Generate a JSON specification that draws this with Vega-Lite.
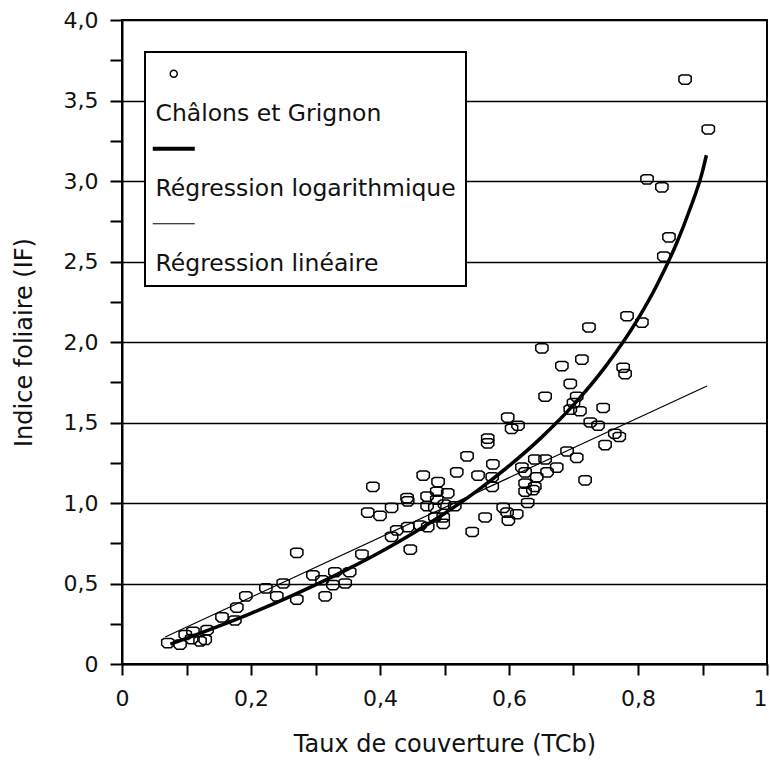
{
  "$schema": "https://vega.github.io/schema/vega-lite/v6.json",
  "width": 645,
  "height": 644,
  "autosize": {"type": "none"},
  "padding": {"left": 122, "top": 20, "right": 3, "bottom": 101},
  "background": "white",
  "config": {
    "view": {"stroke": "black", "strokeWidth": 2},
    "font": "DejaVu Sans",
    "axis": {"labelFont": "DejaVu Sans", "titleFont": "DejaVu Sans", "labelColor": "#111", "titleColor": "#111", "labelFontSize": 22, "titleFontSize": 24, "titleFontWeight": "normal", "domainColor": "black", "domainWidth": 2, "tickColor": "black", "tickWidth": 2, "labelOverlap": false, "labelFlush": false}
  },
  "data": {"values": [
    {"serie": "Châlons et Grignon", "tcb": 0.873, "indice": 3.63},
    {"serie": "Châlons et Grignon", "tcb": 0.909, "indice": 3.32},
    {"serie": "Châlons et Grignon", "tcb": 0.814, "indice": 3.01},
    {"serie": "Châlons et Grignon", "tcb": 0.837, "indice": 2.96},
    {"serie": "Châlons et Grignon", "tcb": 0.848, "indice": 2.65},
    {"serie": "Châlons et Grignon", "tcb": 0.840, "indice": 2.53},
    {"serie": "Châlons et Grignon", "tcb": 0.783, "indice": 2.16},
    {"serie": "Châlons et Grignon", "tcb": 0.806, "indice": 2.12},
    {"serie": "Châlons et Grignon", "tcb": 0.724, "indice": 2.09},
    {"serie": "Châlons et Grignon", "tcb": 0.651, "indice": 1.96},
    {"serie": "Châlons et Grignon", "tcb": 0.713, "indice": 1.89},
    {"serie": "Châlons et Grignon", "tcb": 0.682, "indice": 1.85},
    {"serie": "Châlons et Grignon", "tcb": 0.777, "indice": 1.84},
    {"serie": "Châlons et Grignon", "tcb": 0.780, "indice": 1.80},
    {"serie": "Châlons et Grignon", "tcb": 0.695, "indice": 1.74},
    {"serie": "Châlons et Grignon", "tcb": 0.656, "indice": 1.66},
    {"serie": "Châlons et Grignon", "tcb": 0.705, "indice": 1.66},
    {"serie": "Châlons et Grignon", "tcb": 0.700, "indice": 1.62},
    {"serie": "Châlons et Grignon", "tcb": 0.695, "indice": 1.58},
    {"serie": "Châlons et Grignon", "tcb": 0.710, "indice": 1.57},
    {"serie": "Châlons et Grignon", "tcb": 0.746, "indice": 1.59},
    {"serie": "Châlons et Grignon", "tcb": 0.726, "indice": 1.50},
    {"serie": "Châlons et Grignon", "tcb": 0.738, "indice": 1.48},
    {"serie": "Châlons et Grignon", "tcb": 0.764, "indice": 1.43},
    {"serie": "Châlons et Grignon", "tcb": 0.771, "indice": 1.41},
    {"serie": "Châlons et Grignon", "tcb": 0.749, "indice": 1.36},
    {"serie": "Châlons et Grignon", "tcb": 0.598, "indice": 1.53},
    {"serie": "Châlons et Grignon", "tcb": 0.614, "indice": 1.48},
    {"serie": "Châlons et Grignon", "tcb": 0.604, "indice": 1.46},
    {"serie": "Châlons et Grignon", "tcb": 0.567, "indice": 1.40},
    {"serie": "Châlons et Grignon", "tcb": 0.567, "indice": 1.37},
    {"serie": "Châlons et Grignon", "tcb": 0.535, "indice": 1.29},
    {"serie": "Châlons et Grignon", "tcb": 0.575, "indice": 1.24},
    {"serie": "Châlons et Grignon", "tcb": 0.552, "indice": 1.17},
    {"serie": "Châlons et Grignon", "tcb": 0.574, "indice": 1.16},
    {"serie": "Châlons et Grignon", "tcb": 0.574, "indice": 1.10},
    {"serie": "Châlons et Grignon", "tcb": 0.620, "indice": 1.22},
    {"serie": "Châlons et Grignon", "tcb": 0.640, "indice": 1.27},
    {"serie": "Châlons et Grignon", "tcb": 0.656, "indice": 1.27},
    {"serie": "Châlons et Grignon", "tcb": 0.625, "indice": 1.19},
    {"serie": "Châlons et Grignon", "tcb": 0.643, "indice": 1.16},
    {"serie": "Châlons et Grignon", "tcb": 0.659, "indice": 1.19},
    {"serie": "Châlons et Grignon", "tcb": 0.674, "indice": 1.22},
    {"serie": "Châlons et Grignon", "tcb": 0.625, "indice": 1.12},
    {"serie": "Châlons et Grignon", "tcb": 0.640, "indice": 1.10},
    {"serie": "Châlons et Grignon", "tcb": 0.625, "indice": 1.07},
    {"serie": "Châlons et Grignon", "tcb": 0.637, "indice": 1.08},
    {"serie": "Châlons et Grignon", "tcb": 0.690, "indice": 1.32},
    {"serie": "Châlons et Grignon", "tcb": 0.705, "indice": 1.28},
    {"serie": "Châlons et Grignon", "tcb": 0.718, "indice": 1.14},
    {"serie": "Châlons et Grignon", "tcb": 0.629, "indice": 1.00},
    {"serie": "Châlons et Grignon", "tcb": 0.591, "indice": 0.97},
    {"serie": "Châlons et Grignon", "tcb": 0.597, "indice": 0.94},
    {"serie": "Châlons et Grignon", "tcb": 0.612, "indice": 0.93},
    {"serie": "Châlons et Grignon", "tcb": 0.599, "indice": 0.89},
    {"serie": "Châlons et Grignon", "tcb": 0.563, "indice": 0.91},
    {"serie": "Châlons et Grignon", "tcb": 0.543, "indice": 0.82},
    {"serie": "Châlons et Grignon", "tcb": 0.519, "indice": 1.19},
    {"serie": "Châlons et Grignon", "tcb": 0.467, "indice": 1.17},
    {"serie": "Châlons et Grignon", "tcb": 0.389, "indice": 1.10},
    {"serie": "Châlons et Grignon", "tcb": 0.490, "indice": 1.13},
    {"serie": "Châlons et Grignon", "tcb": 0.473, "indice": 1.04},
    {"serie": "Châlons et Grignon", "tcb": 0.488, "indice": 1.07},
    {"serie": "Châlons et Grignon", "tcb": 0.505, "indice": 1.06},
    {"serie": "Châlons et Grignon", "tcb": 0.488, "indice": 1.02},
    {"serie": "Châlons et Grignon", "tcb": 0.473, "indice": 0.98},
    {"serie": "Châlons et Grignon", "tcb": 0.485, "indice": 0.97},
    {"serie": "Châlons et Grignon", "tcb": 0.500, "indice": 0.99},
    {"serie": "Châlons et Grignon", "tcb": 0.516, "indice": 0.98},
    {"serie": "Châlons et Grignon", "tcb": 0.485, "indice": 0.91},
    {"serie": "Châlons et Grignon", "tcb": 0.498, "indice": 0.91},
    {"serie": "Châlons et Grignon", "tcb": 0.498, "indice": 0.87},
    {"serie": "Châlons et Grignon", "tcb": 0.442, "indice": 1.03},
    {"serie": "Châlons et Grignon", "tcb": 0.443, "indice": 1.01},
    {"serie": "Châlons et Grignon", "tcb": 0.381, "indice": 0.94},
    {"serie": "Châlons et Grignon", "tcb": 0.400, "indice": 0.92},
    {"serie": "Châlons et Grignon", "tcb": 0.418, "indice": 0.97},
    {"serie": "Châlons et Grignon", "tcb": 0.426, "indice": 0.83},
    {"serie": "Châlons et Grignon", "tcb": 0.443, "indice": 0.85},
    {"serie": "Châlons et Grignon", "tcb": 0.462, "indice": 0.86},
    {"serie": "Châlons et Grignon", "tcb": 0.474, "indice": 0.85},
    {"serie": "Châlons et Grignon", "tcb": 0.447, "indice": 0.71},
    {"serie": "Châlons et Grignon", "tcb": 0.418, "indice": 0.79},
    {"serie": "Châlons et Grignon", "tcb": 0.372, "indice": 0.68},
    {"serie": "Châlons et Grignon", "tcb": 0.330, "indice": 0.57},
    {"serie": "Châlons et Grignon", "tcb": 0.353, "indice": 0.57},
    {"serie": "Châlons et Grignon", "tcb": 0.327, "indice": 0.49},
    {"serie": "Châlons et Grignon", "tcb": 0.346, "indice": 0.50},
    {"serie": "Châlons et Grignon", "tcb": 0.315, "indice": 0.42},
    {"serie": "Châlons et Grignon", "tcb": 0.310, "indice": 0.52},
    {"serie": "Châlons et Grignon", "tcb": 0.271, "indice": 0.69},
    {"serie": "Châlons et Grignon", "tcb": 0.250, "indice": 0.50},
    {"serie": "Châlons et Grignon", "tcb": 0.223, "indice": 0.47},
    {"serie": "Châlons et Grignon", "tcb": 0.192, "indice": 0.42},
    {"serie": "Châlons et Grignon", "tcb": 0.240, "indice": 0.42},
    {"serie": "Châlons et Grignon", "tcb": 0.271, "indice": 0.40},
    {"serie": "Châlons et Grignon", "tcb": 0.296, "indice": 0.55},
    {"serie": "Châlons et Grignon", "tcb": 0.178, "indice": 0.35},
    {"serie": "Châlons et Grignon", "tcb": 0.175, "indice": 0.27},
    {"serie": "Châlons et Grignon", "tcb": 0.155, "indice": 0.29},
    {"serie": "Châlons et Grignon", "tcb": 0.132, "indice": 0.21},
    {"serie": "Châlons et Grignon", "tcb": 0.110, "indice": 0.20},
    {"serie": "Châlons et Grignon", "tcb": 0.129, "indice": 0.15},
    {"serie": "Châlons et Grignon", "tcb": 0.121, "indice": 0.14},
    {"serie": "Châlons et Grignon", "tcb": 0.108, "indice": 0.155},
    {"serie": "Châlons et Grignon", "tcb": 0.090, "indice": 0.12},
    {"serie": "Châlons et Grignon", "tcb": 0.071, "indice": 0.13},
    {"serie": "Châlons et Grignon", "tcb": 0.098, "indice": 0.18},
    {"serie": "Régression logarithmique", "tcb": 0.075, "indice": 0.123},
    {"serie": "Régression logarithmique", "tcb": 0.10, "indice": 0.159},
    {"serie": "Régression logarithmique", "tcb": 0.15, "indice": 0.235},
    {"serie": "Régression logarithmique", "tcb": 0.20, "indice": 0.315},
    {"serie": "Régression logarithmique", "tcb": 0.25, "indice": 0.400},
    {"serie": "Régression logarithmique", "tcb": 0.30, "indice": 0.491},
    {"serie": "Régression logarithmique", "tcb": 0.35, "indice": 0.589},
    {"serie": "Régression logarithmique", "tcb": 0.40, "indice": 0.694},
    {"serie": "Régression logarithmique", "tcb": 0.45, "indice": 0.809},
    {"serie": "Régression logarithmique", "tcb": 0.50, "indice": 0.935},
    {"serie": "Régression logarithmique", "tcb": 0.55, "indice": 1.074},
    {"serie": "Régression logarithmique", "tcb": 0.60, "indice": 1.230},
    {"serie": "Régression logarithmique", "tcb": 0.65, "indice": 1.406},
    {"serie": "Régression logarithmique", "tcb": 0.70, "indice": 1.609},
    {"serie": "Régression logarithmique", "tcb": 0.75, "indice": 1.850},
    {"serie": "Régression logarithmique", "tcb": 0.80, "indice": 2.144},
    {"serie": "Régression logarithmique", "tcb": 0.83, "indice": 2.359},
    {"serie": "Régression logarithmique", "tcb": 0.86, "indice": 2.615},
    {"serie": "Régression logarithmique", "tcb": 0.88, "indice": 2.820},
    {"serie": "Régression logarithmique", "tcb": 0.90, "indice": 3.060},
    {"serie": "Régression logarithmique", "tcb": 0.906, "indice": 3.160},
    {"serie": "Régression linéaire", "tcb": 0.067, "indice": 0.168},
    {"serie": "Régression linéaire", "tcb": 0.907, "indice": 1.727}
  ]},
  "encoding": {
    "x": {
      "field": "tcb", "type": "quantitative",
      "scale": {"domain": [0, 1], "nice": false, "zero": false},
      "axis": {
        "title": "Taux de couverture (TCb)",
        "values": [0, 0.1, 0.2, 0.3, 0.4, 0.5, 0.6, 0.7, 0.8, 0.9, 1],
        "labelExpr": "datum.value == 0 ? '0' : datum.value == 1 ? '1' : (round(datum.value*10) % 2 == 0 ? replace(format(datum.value, '.1f'), '.', ',') : '')",
        "labelAlign": {"condition": {"test": "datum.value == 1", "value": "right"}, "value": "center"},
        "tickSize": 11,
        "labelPadding": 13,
        "grid": false,
        "titleY": 68,
        "encode": {
          "ticks": {"update": {
            "y": {"signal": "round(datum.value*10) % 2 == 0 ? -9 : -4"},
            "y2": {"signal": "round(datum.value*10) % 2 == 0 ? 11 : 4"}
          }}
        }
      }
    },
    "y": {
      "field": "indice", "type": "quantitative",
      "scale": {"domain": [0, 4], "nice": false, "zero": false},
      "axis": {
        "title": "Indice foliaire (IF)",
        "values": [0, 0.25, 0.5, 0.75, 1, 1.25, 1.5, 1.75, 2, 2.25, 2.5, 2.75, 3, 3.25, 3.5, 3.75, 4],
        "labelExpr": "datum.value == 0 ? '0' : (round(datum.value*4) % 2 == 0 ? replace(format(datum.value, '.1f'), '.', ',') : '')",
        "tickSize": 12,
        "labelPadding": 12,
        "grid": true,
        "gridColor": "black",
        "gridWidth": 1.5,
        "gridOpacity": {"condition": {"test": "round(datum.value*4) % 2 == 0", "value": 1}, "value": 0},
        "titleX": -86,
        "encode": {"ticks": {"update": {
          "x": {"signal": "round(datum.value*4) % 2 == 0 ? 0 : 5"},
          "x2": {"signal": "round(datum.value*4) % 2 == 0 ? -12 : -7"}
        }}}
      }
    },
    "color": {
      "field": "serie", "type": "nominal",
      "scale": {"domain": ["Châlons et Grignon", "Régression logarithmique", "Régression linéaire"], "range": ["black", "black", "black"]},
      "legend": {
        "title": null,
        "orient": "none",
        "legendX": 23,
        "legendY": 32,
        "direction": "vertical",
        "columns": 1,
        "padding": 10,
        "strokeColor": "black",
        "fillColor": "white",
        "symbolSize": 100,
        "symbolOffset": 7,
        "labelFont": "DejaVu Sans",
        "labelFontSize": 23.5,
        "labelColor": "#111",
        "labelLimit": 500,
        "labelOffset": -30,
        "labelBaseline": "middle",
        "rowPadding": 11,
        "encode": {
          "legend": {"update": {"strokeWidth": {"value": 2}}},
          "symbols": {"update": {
            "shape": {"signal": "datum.value === 'Châlons et Grignon' ? 'circle' : 'M -4.2 0 L 4.2 0'"},
            "size": {"signal": "datum.value === 'Châlons et Grignon' ? 50 : 100"},
            "strokeWidth": {"signal": "datum.value === 'Régression logarithmique' ? 4 : datum.value === 'Régression linéaire' ? 1.2 : 1.4"},
            "stroke": {"value": "black"},
            "fill": {"value": "transparent"},
            "opacity": {"value": 1}
          }},
          "labels": {"update": {"dy": {"value": 40}}}
        }
      }
    }
  },
  "layer": [
    {
      "transform": [{"filter": "datum.serie === 'Châlons et Grignon'"}],
      "mark": {"type": "point", "filled": false, "shape": "M -1 -0.5 L -0.6 -0.75 L 0.6 -0.75 L 1 -0.5 L 1 0.3 L 0.55 0.75 L -0.55 0.75 L -1 0.3 Z", "size": 150, "strokeWidth": 1.5, "opacity": 1}
    },
    {
      "transform": [{"filter": "datum.serie === 'Régression logarithmique'"}],
      "mark": {"type": "line", "strokeWidth": 3.5, "interpolate": "monotone"}
    },
    {
      "transform": [{"filter": "datum.serie === 'Régression linéaire'"}],
      "mark": {"type": "line", "strokeWidth": 1.2}
    }
  ]
}
